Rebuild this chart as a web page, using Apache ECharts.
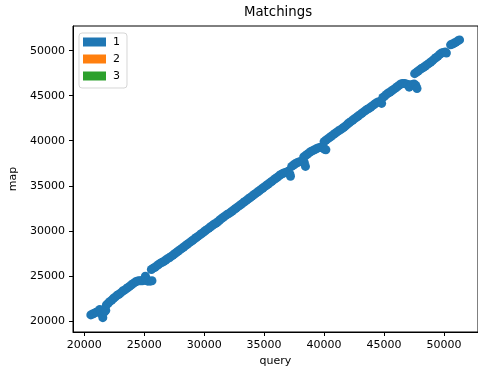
<!DOCTYPE html>
<html>
<head>
<meta charset="utf-8">
<script src="https://cdn.jsdelivr.net/npm/echarts@6/dist/echarts.min.js"></script>
<style>
  html, body { margin: 0; padding: 0; background: #fff; }
  #chart { width: 478px; height: 372px; }
</style>
</head>
<body>
<div id="chart"></div>
<script>
// matched positions, query vs map
const queryPos = [
  20550, 20700, 20850, 21000, 21150, 21300, 21400, 21500, 21550, 21700, 21800,
  21850, 22000, 22150, 22300, 22450, 22600, 22750, 22900, 23050, 23200, 23350, 23500, 23650, 23800,
  23950, 24100, 24250, 24400, 24550, 24700, 24850, 25000, 25100, 25150, 25300, 25500, 25650,
  25600, 25750, 25900, 26050, 26200, 26350, 26500, 26650, 26800, 26950, 27100, 27250, 27400, 27550,
  27700, 27850, 28000, 28150, 28300, 28450, 28600, 28750, 28900, 29050, 29200, 29350, 29500, 29650,
  29800, 29950, 30100, 30250, 30400, 30550, 30700, 30850, 31000, 31150, 31300, 31450, 31600, 31750,
  31900, 32050, 32200, 32350, 32500, 32650, 32800, 32950, 33100, 33250, 33400, 33550, 33700, 33850,
  34000, 34150, 34300, 34450, 34600, 34750, 34900, 35050, 35200, 35350, 35500, 35650, 35800, 35950,
  36100, 36250, 36400, 36550, 36700, 36850, 37000, 37150, 37200, 37300, 37450, 37600, 37750, 37900,
  38050, 38200, 38350, 38450, 38300, 38450, 38600, 38750, 38900, 39050, 39200, 39350, 39500, 39650,
  39800, 39950, 40050, 40150, 40000, 40150, 40300, 40450,
  40600, 40750, 40900, 41050, 41200, 41350, 41500, 41650, 41800, 41950, 42100, 42250, 42400, 42550,
  42700, 42850, 43000, 43150, 43300, 43450, 43600, 43750, 43900, 44050, 44200, 44350, 44500, 44650,
  44800, 44900,
  45050, 45200, 45350, 45500, 45650, 45800, 45950, 46100, 46250, 46400, 46550, 46700, 46850, 47000,
  47100, 47200, 47350, 47500, 47650, 47750,
  47550, 47700, 47850, 48000, 48150, 48300, 48450, 48600, 48750, 48900, 49050, 49200, 49350, 49500,
  49650, 49800, 49950, 50100, 50200,
  50550, 50700, 50850, 51000, 51150, 51300
]
const mapPos = [
  20650, 20750, 20850, 20950, 21050, 21250, 21100, 20650, 20350, 21000, 21150,
  21750, 21950, 22150, 22300, 22500, 22650, 22850, 22950, 23100, 23300, 23400, 23550, 23700, 23850,
  24000, 24150, 24300, 24400, 24450, 24450, 24450, 24500, 24950, 24700, 24400, 24400, 24450,
  25700, 25850, 25950, 26100, 26250, 26400, 26500, 26600, 26750, 26900, 27000, 27150, 27300, 27450,
  27600, 27750, 27900, 28050, 28200, 28350, 28500, 28650, 28800, 28950, 29100, 29250, 29400, 29550,
  29700, 29850, 30000, 30150, 30300, 30450, 30600, 30750, 30850, 31000, 31200, 31350, 31500, 31650,
  31800, 31900, 32050, 32200, 32350, 32500, 32650, 32800, 32950, 33100, 33250, 33400, 33550, 33700,
  33850, 34000, 34150, 34300, 34450, 34600, 34750, 34900, 35050, 35200, 35350, 35500, 35650, 35800,
  35950, 36100, 36250, 36350, 36450, 36500, 36600, 36300, 36050, 37150, 37300, 37450, 37550, 37650,
  37700, 37650, 37600, 37150, 38200, 38350, 38500, 38650, 38800, 38900, 39000, 39100, 39200, 39250,
  39300, 39150, 39050, 39000, 39900, 40050, 40200, 40350,
  40500, 40650, 40800, 40950, 41100, 41200, 41350, 41500, 41650, 41850, 42000, 42150, 42300, 42450,
  42600, 42750, 42900, 43050, 43200, 43350, 43500, 43600, 43750, 43900, 44050, 44200, 44300, 44350,
  44150, 44800,
  44950, 45150, 45300, 45400, 45550, 45700, 45850, 46000, 46150, 46300, 46350, 46350, 46300, 46250,
  45950, 46100, 46250, 46300, 46150, 45800,
  47450, 47600, 47750, 47900, 48050, 48150, 48300, 48450, 48600, 48750, 48900, 49100, 49250, 49400,
  49600, 49750, 49800, 49850, 49750,
  50650, 50750, 50850, 50950, 51100, 51200
]
const xTicks = [20000, 25000, 30000, 35000, 40000, 45000, 50000]
const yTicks = [20000, 25000, 30000, 35000, 40000, 45000, 50000]
const legendNames = ['1', '2', '3']
const legendColors = ['#1f77b4', '#ff7f0e', '#2ca02c']

const font = 'DejaVu Sans'
const points = queryPos.map((q, i) => [q, mapPos[i]])

const chart = echarts.init(document.getElementById('chart'), null, { renderer: 'canvas' })

const axisCommon = (ticks) => ({
  type: 'value',
  splitLine: { show: false },
  axisLine: { show: true, onZero: false, lineStyle: { color: '#000', width: 1 } },
  axisTick: { show: true, inside: false, length: 4, lineStyle: { color: '#000' }, customValues: ticks },
  axisLabel: {
    color: '#000',
    fontFamily: font,
    fontSize: 11,
    margin: 8,
    customValues: ticks,
    formatter: (v) => String(v)
  },
  nameLocation: 'middle',
  nameTextStyle: { color: '#000', fontFamily: font, fontSize: 11 }
})

chart.setOption({
  animation: false,
  backgroundColor: '#fff',
  title: {
    text: 'Matchings',
    left: 244,
    top: 6,
    padding: 0,
    textStyle: { color: '#000', fontFamily: font, fontSize: 13.3, fontWeight: 'normal' }
  },
  legend: {
    orient: 'vertical',
    left: 79,
    top: 33,
    padding: [2, 7, 5, 4],
    itemGap: 3,
    itemWidth: 23,
    itemHeight: 9,
    icon: 'rect',
    backgroundColor: 'rgba(255,255,255,0.8)',
    borderColor: 'rgba(204,204,204,0.8)',
    borderWidth: 1,
    borderRadius: 3,
    selectedMode: false,
    textStyle: { color: '#000', fontFamily: font, fontSize: 11, lineHeight: 14, padding: [0, 0, 0, 2] },
    data: legendNames
  },
  grid: {
    left: 73,
    top: 26,
    right: -6,
    bottom: 40,
    show: true,
    borderColor: '#000',
    borderWidth: 1,
    backgroundColor: 'transparent'
  },
  xAxis: Object.assign(axisCommon(xTicks), {
    min: 19065,
    max: 52835,
    name: 'query',
    nameGap: 22
  }),
  yAxis: Object.assign(axisCommon(yTicks), {
    min: 18755,
    max: 52745,
    name: 'map',
    nameGap: 42
  }),
  series: [
    {
      name: legendNames[0],
      type: 'scatter',
      symbolSize: 9,
      itemStyle: { color: legendColors[0], opacity: 1 },
      data: points
    },
    {
      name: legendNames[1],
      type: 'scatter',
      itemStyle: { color: legendColors[1], opacity: 1 },
      data: []
    },
    {
      name: legendNames[2],
      type: 'scatter',
      itemStyle: { color: legendColors[2], opacity: 1 },
      data: []
    }
  ]
})
</script>
</body>
</html>
